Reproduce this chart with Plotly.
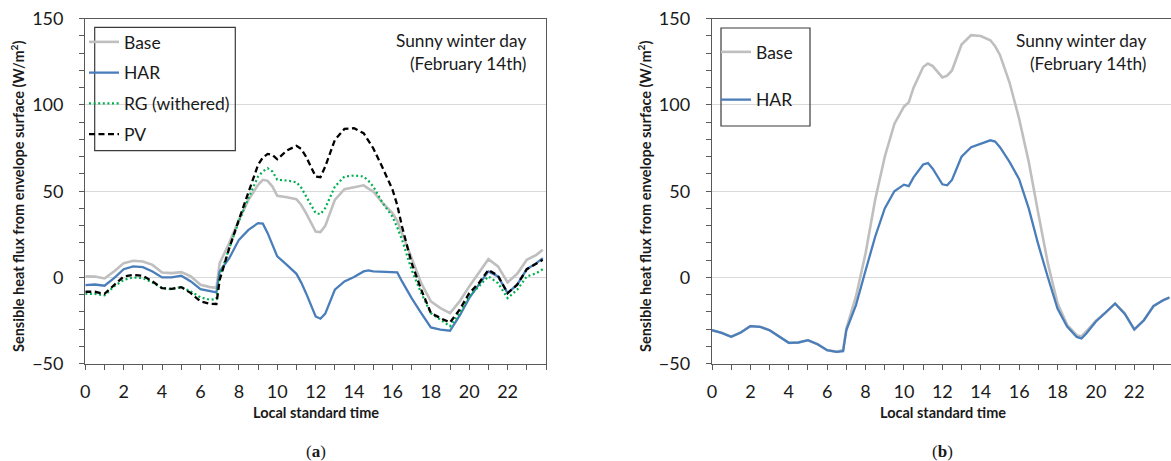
import plotly.graph_objects as go

# ---------------- data ----------------
# Panel (a): sensible heat flux (W/m2) for the four envelope cases
hours_a = [0, 0.5, 1, 1.5, 2, 2.5, 3, 3.5, 4, 4.5, 5, 5.5, 6, 6.5, 6.83,
           7, 7.5, 8, 8.5, 9, 9.25, 9.5, 9.75, 10, 10.5, 11, 11.25, 11.5,
           12, 12.25, 12.5, 13, 13.5, 14, 14.5, 14.75, 15, 15.5, 16, 16.25,
           16.5, 17, 17.5, 18, 18.5, 19, 19.5, 20, 20.5, 21, 21.5, 22, 22.5,
           23, 23.5, 23.83]

base_a = [0.6, 0.5, -0.6, 3.5, 8.3, 9.7, 9.3, 7.3, 2.9, 2.5, 3.1, 0.6, -4.2, -5.6, -6.0,
          8.3, 20.0, 33.4, 45.0, 53.7, 56.6, 56.0, 52.7, 47.3, 46.5, 45.4, 42.0, 37.3,
          26.6, 26.3, 29.9, 45.0, 51.2, 52.3, 53.4, 51.5, 49.8, 43.0, 37.3, 33.0,
          25.7, 10.2, -3.3, -13.9, -17.8, -20.7, -13.9, -5.2, 2.5, 10.6, 6.4, -2.9, 2.1,
          10.2, 13.1, 16.0]

har_a = [-4.4, -4.1, -4.8, -0.4, 4.8, 6.4, 6.0, 3.5, 0.0, 0.0, 1.0, -2.3, -6.8, -8.1, -8.7,
         3.5, 11.2, 21.8, 27.6, 31.5, 31.2, 25.7, 19.0, 12.2, 7.3, 2.1, -3.0, -9.1,
         -22.6, -23.9, -21.0, -7.1, -2.3, 0.2, 3.5, 4.1, 3.5, 3.1, 2.9, 2.9,
         -2.3, -12.0, -20.7, -29.0, -30.3, -30.9, -22.2, -12.0, -4.2, 3.5, 0.6, -9.1, -4.2,
         4.8, 8.3, 11.2]

rg_a = [-9.5, -9.5, -10.4, -5.2, -1.4, 0.0, -0.4, -2.9, -6.2, -6.8, -5.6, -8.1, -11.6, -12.9, -12.5,
        0.6, 17.0, 32.4, 46.0, 58.5, 61.5, 63.3, 61.4, 56.6, 56.2, 55.2, 52.0, 46.9,
        37.3, 36.7, 40.2, 52.7, 58.5, 59.1, 58.5, 56.0, 52.7, 43.0, 35.3, 29.0,
        21.8, 4.4, -9.1, -20.7, -24.5, -28.3, -20.7, -11.0, -5.2, 0.6, -3.3, -12.0, -7.1,
        0.6, 2.5, 4.8]

pv_a = [-8.3, -8.3, -9.5, -4.2, 0.6, 1.5, 1.0, -2.3, -6.2, -6.6, -5.6, -9.1, -13.9, -15.3, -15.4,
        -1.4, 17.0, 33.4, 48.8, 65.3, 69.5, 71.6, 71.0, 68.5, 73.6, 76.3, 74.5, 70.0,
        58.5, 58.1, 64.3, 79.7, 86.1, 86.5, 83.6, 79.5, 74.9, 63.3, 51.0, 42.0,
        29.5, 8.3, -7.1, -20.5, -23.6, -26.1, -18.7, -9.1, -3.3, 4.4, 1.0, -9.1, -4.2,
        4.8, 7.9, 10.2]

# Panel (b): Base vs HAR
hours_b = [0, 0.5, 1, 1.5, 2, 2.5, 3, 3.5, 4, 4.5, 5, 5.5, 6, 6.5, 6.83,
           7, 7.5, 8, 8.5, 9, 9.5, 10, 10.25, 10.5, 11, 11.25, 11.5,
           12, 12.25, 12.5, 13, 13.5, 14, 14.5, 14.75, 15, 15.5, 16,
           16.5, 17, 17.5, 18, 18.5, 19, 19.25, 19.5, 20, 20.5, 21, 21.5, 22, 22.5,
           23, 23.5, 23.83]

base_b = [-30.6, -32.1, -34.4, -31.9, -28.2, -28.6, -30.6, -34.4, -37.9, -37.7, -36.4, -38.7, -42.2, -43.1, -42.0,
          -29.5, -11.0, 14.0, 45.0, 70.0, 89.0, 99.0, 101.5, 110.0, 122.0, 124.0, 122.5,
          116.0, 117.0, 120.0, 135.0, 140.5, 140.0, 137.5, 134.0, 129.0, 113.0, 92.0,
          67.0, 37.0, 8.0, -15.0, -27.5, -33.5, -34.2, -31.2, -25.1, -20.5, -15.1, -20.9, -30.2, -24.8,
          -16.6, -13.2, -11.6]

har_b = [-30.6, -32.1, -34.4, -31.9, -28.2, -28.6, -30.6, -34.4, -37.9, -37.7, -36.4, -38.7, -42.2, -43.1, -42.7,
         -30.5, -16.0, 4.0, 23.6, 40.0, 50.0, 53.8, 53.0, 58.0, 65.5, 66.3, 63.0,
         54.0, 53.4, 56.5, 70.0, 75.5, 77.5, 79.5, 78.8, 75.5, 67.0, 57.0,
         40.0, 19.0, 0.0, -18.0, -28.5, -34.5, -35.4, -32.5, -25.5, -20.5, -15.1, -21.0, -30.2, -24.8,
         -16.6, -13.2, -11.6]

hour_ticks = [0, 2, 4, 6, 8, 10, 12, 14, 16, 18, 20, 22]
flux_ticks = [-50, 0, 50, 100, 150]

# ---------------- layout helpers ----------------
W, H = 1171, 461


def fx(p):
    return p / W


def fy(p):
    return 1 - p / H


PLOT_TOP, PLOT_BOT = 18.7, 363.7
A_LEFT, A_RIGHT = 85.3, 546.0
B_LEFT = 712.0
HOUR_PX = (A_RIGHT - A_LEFT) / 24
B_RANGE_END = (W - B_LEFT) / HOUR_PX

TXT = "#1a1a1a"
AXC = "#595959"
FONT = "Lato"

C_BASE = "#BFBFBF"
C_HAR = "#4A7EBB"
C_RG = "#00B050"
C_PV = "#000000"

fig = go.Figure()

fig.add_trace(go.Scatter(x=hours_a, y=base_a, name="Base", mode="lines",
                         line=dict(color=C_BASE, width=2.6),
                         xaxis="x", yaxis="y", legend="legend", legendgroup="a1"))
fig.add_trace(go.Scatter(x=hours_a, y=har_a, name="HAR", mode="lines",
                         line=dict(color=C_HAR, width=2.3),
                         xaxis="x", yaxis="y", legend="legend", legendgroup="a2"))
fig.add_trace(go.Scatter(x=hours_a, y=rg_a, name="RG (withered)", mode="lines",
                         line=dict(color=C_RG, width=2.2, dash="2px,2.6px"),
                         xaxis="x", yaxis="y", legend="legend", legendgroup="a3"))
fig.add_trace(go.Scatter(x=hours_a, y=pv_a, name="PV", mode="lines",
                         line=dict(color=C_PV, width=2.3, dash="6px,3.5px"),
                         xaxis="x", yaxis="y", legend="legend", legendgroup="a4"))

fig.add_trace(go.Scatter(x=hours_b, y=base_b, name="Base", mode="lines",
                         line=dict(color=C_BASE, width=2.6),
                         xaxis="x2", yaxis="y2", legend="legend2", legendgroup="b1"))
fig.add_trace(go.Scatter(x=hours_b, y=har_b, name="HAR", mode="lines",
                         line=dict(color=C_HAR, width=2.3),
                         xaxis="x2", yaxis="y2", legend="legend2", legendgroup="b2"))

tickfont = dict(family=FONT, size=18, color=TXT)


def xaxis_cfg(domain, rng, anchor):
    return dict(domain=domain, range=rng, anchor=anchor, automargin=False,
                tickmode="array", tickvals=hour_ticks,
                ticks="outside", ticklen=5, tickwidth=1, tickcolor=AXC,
                minor=dict(tickmode="linear", tick0=0, dtick=1, ticks="outside",
                           ticklen=5, tickwidth=1, tickcolor=AXC, showgrid=False),
                showline=True, linecolor=AXC, linewidth=1.4, mirror=True,
                showgrid=False, zeroline=False, tickfont=tickfont,
                ticklabelstandoff=6, fixedrange=True)


def yaxis_cfg(anchor, mirror):
    return dict(domain=[fy(PLOT_BOT), fy(PLOT_TOP)], range=[-50, 150], anchor=anchor,
                automargin=False,
                tickmode="array", tickvals=flux_ticks,
                ticks="outside", ticklen=5, tickwidth=1, tickcolor=AXC,
                minor=dict(tickmode="linear", tick0=-50, dtick=10, ticks="outside",
                           ticklen=5, tickwidth=1, tickcolor=AXC, showgrid=False),
                showline=True, linecolor=AXC, linewidth=1.4, mirror=mirror,
                showgrid=True, gridcolor="#D9D9D9", gridwidth=1,
                zeroline=False, tickfont=tickfont,
                ticklabelstandoff=12, fixedrange=True)


legend_common = dict(xanchor="left", yanchor="top", bgcolor="rgba(0,0,0,0)",
                     borderwidth=0, font=dict(family=FONT, size=17.5, color=TXT),
                     itemwidth=30, itemclick=False, itemdoubleclick=False)

fig.update_layout(
    width=W, height=H,
    margin=dict(l=0, r=0, t=0, b=0, autoexpand=False),
    paper_bgcolor="white", plot_bgcolor="white",
    xaxis=xaxis_cfg([fx(A_LEFT), fx(A_RIGHT)], [0, 24], "y"),
    yaxis=yaxis_cfg("x", True),
    xaxis2=xaxis_cfg([fx(B_LEFT), 1.0], [0, B_RANGE_END], "y2"),
    yaxis2=yaxis_cfg("x2", False),
    legend=dict(x=fx(84), y=fy(24), tracegroupgap=5, **legend_common),
    legend2=dict(x=fx(716), y=fy(34), tracegroupgap=22, **legend_common),
    showlegend=True,
)

# legend frames
frame = dict(type="rect", xref="paper", yref="paper",
             line=dict(color="#3a3a3a", width=1.2), fillcolor="rgba(0,0,0,0)")
fig.add_shape(x0=fx(94.7), x1=fx(235.3), y0=fy(150.7), y1=fy(27.3), **frame)
fig.add_shape(x0=fx(721), x1=fx(810), y0=fy(126), y1=fy(28), **frame)

# text labels
note_font = dict(family=FONT, size=17.3, color=TXT)
for right in (528, 1148):
    fig.add_annotation(text="Sunny winter day", x=fx(right), y=fy(40), xref="paper", yref="paper",
                       xanchor="right", yanchor="middle", showarrow=False, font=note_font)
    fig.add_annotation(text="(February 14th)", x=fx(right), y=fy(63), xref="paper", yref="paper",
                       xanchor="right", yanchor="middle", showarrow=False, font=note_font)

ytitle = "Sensible heat flux from envelope surface (W/m<sup>2</sup>)"
for xc in (18, 645):
    fig.add_annotation(text=ytitle, x=fx(xc), y=fy(197), xref="paper", yref="paper",
                       textangle=-90, xanchor="center", yanchor="middle", showarrow=False,
                       font=dict(family=FONT, size=14.5, color=TXT, weight="bold"))

for xc, tag in ((315.6, "a"), (942.5, "b")):
    fig.add_annotation(text="Local standard time", x=fx(xc), y=fy(412), xref="paper", yref="paper",
                       xanchor="center", yanchor="middle", showarrow=False,
                       font=dict(family=FONT, size=14.5, color=TXT, weight="bold"))
    fig.add_annotation(text=f"(<b>{tag}</b>)", x=fx(xc), y=fy(451), xref="paper", yref="paper",
                       xanchor="center", yanchor="middle", showarrow=False,
                       font=dict(family="Liberation Serif", size=17, color=TXT))

fig.write_html("out.html")
